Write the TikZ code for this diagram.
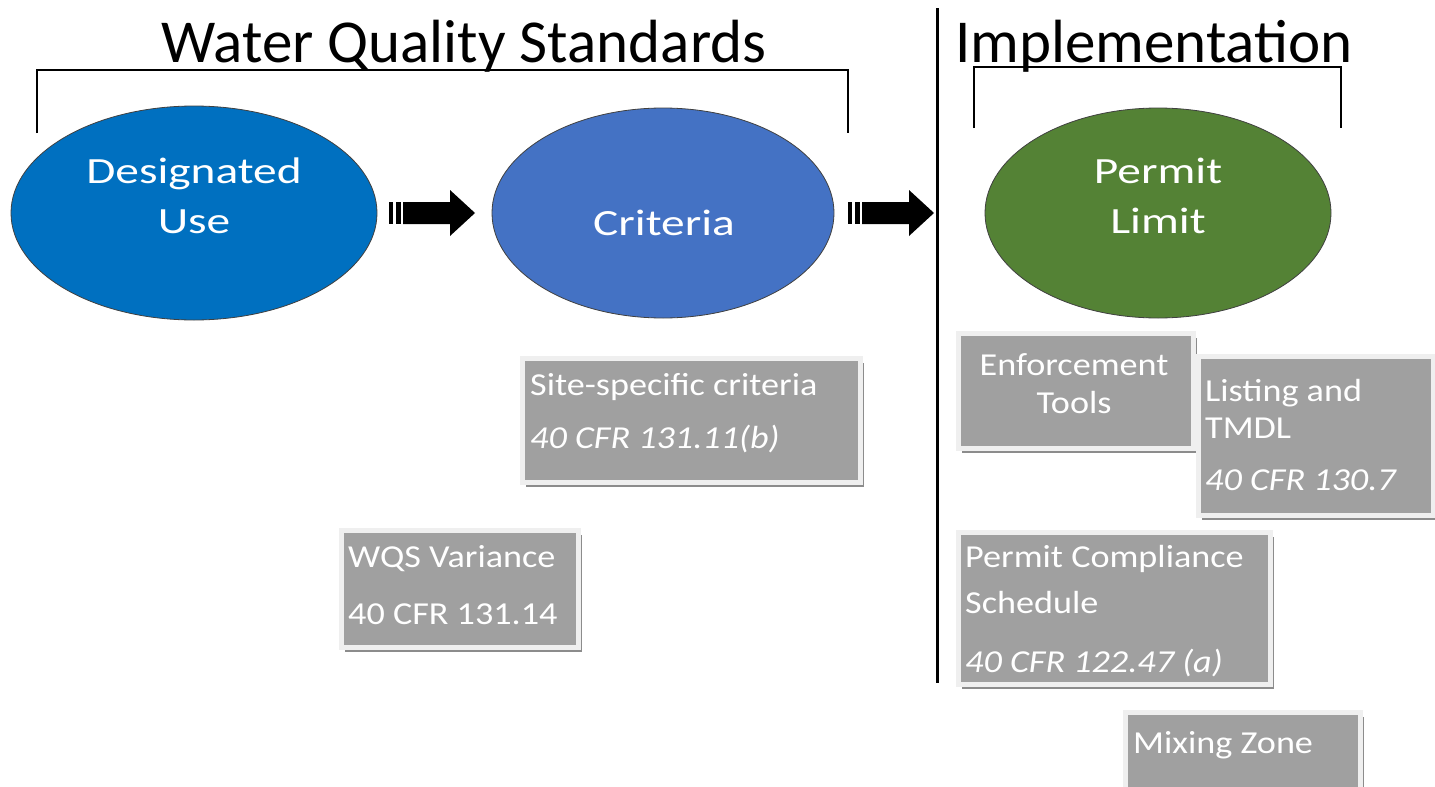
\documentclass[tikz,border=0pt]{standalone}
\usepackage{fontspec}
\setmainfont{Carlito}
\newfontfamily\ellfont[FakeStretch=1.28]{Carlito}
\newfontfamily\boxfont[FakeStretch=1.13]{Carlito}
\usetikzlibrary{shadows,shapes.geometric}
\definecolor{duse}{HTML}{0070C0}
\definecolor{crit}{HTML}{4472C4}
\definecolor{perm}{HTML}{548235}
\definecolor{boxgrey}{HTML}{A0A0A0}
\definecolor{boxedge}{HTML}{EFEFEF}
\definecolor{boxshadow}{HTML}{8C8C8C}
\tikzset{
  title/.style={font=\fontsize{61}{63}\selectfont, text=black, inner sep=0pt},
  brk/.style={line width=2.2pt, draw=black},
  ell/.style={ellipse, draw=black!75, line width=0.8pt},
  elltext/.style={font=\ellfont\fontsize{37}{40}\selectfont, text=white, inner sep=0pt},
  gbox/.style={rectangle, fill=boxgrey, draw=boxedge, line width=5pt, anchor=north west,
    inner sep=0pt, drop shadow={shadow xshift=3.5pt, shadow yshift=-4.5pt, opacity=1, fill=boxshadow}},
  boxtext/.style={font=\boxfont\fontsize{32}{34}\selectfont, text=white, inner sep=0pt},
  boxital/.style={boxtext, font=\boxfont\itshape\fontsize{32}{34}\selectfont},
  striparrow/.pic={
    \fill[black] (0,-11) rectangle (4,11);
    \fill[black] (7,-11) rectangle (12,11);
    \fill[black] (14,-11) -- (61,-11) -- (61,-23) -- (86,0) -- (61,23) -- (61,11) -- (14,11) -- cycle;
  }
}
\begin{document}
\begin{tikzpicture}[x=1pt,y=-1pt]
\useasboundingbox[fill=white] (0,0) rectangle (1435,787);

% titles
\node[title, anchor=base] (wqs) at (464,62) {Water Quality Standards};
\node[title, anchor=base west] (impl) at (955,62) {Implementation};

% brackets
\coordinate (b1) at (37,133);
\coordinate (b2) at (37,70);
\coordinate (b3) at (848,70);
\coordinate (b4) at (848,133);
\draw[brk] (b1) -- (b2) -- (b3) -- (b4);
\coordinate (c1) at (974,128);
\coordinate (c2) at (974,67);
\coordinate (c3) at (1341,67);
\coordinate (c4) at (1341,128);
\draw[brk] (c1) -- (c2) -- (c3) -- (c4);

% divider
\coordinate (d1) at (937,8);
\coordinate (d2) at (937,683);
\draw[line width=3pt] (d1) -- (d2);

% ellipses
\node[ell, fill=duse, minimum width=366pt, minimum height=214pt] (du) at (194,213) {};
\node[ell, fill=crit, minimum width=342pt, minimum height=210pt] (cr) at (663,213) {};
\node[ell, fill=perm, minimum width=346pt, minimum height=210pt] (pl) at (1158,213) {};
\node[elltext, anchor=base] (du1) at (194,183) {Designated};
\node[elltext, anchor=base] (du2) at (194,233) {Use};
\node[elltext, anchor=base] (cr1) at (664,235) {Criteria};
\node[elltext, anchor=base] (pl1) at (1158,183) {Permit};
\node[elltext, anchor=base] (pl2) at (1158,233) {Limit};

% striped arrows
\pic at (389,213) {striparrow};
\pic at (848,213) {striparrow};

% boxes
\node[gbox, minimum width=338pt, minimum height=124pt] (site) at (519.5,355.5) {};
\node[gbox, minimum width=237pt, minimum height=117pt] (var) at (338.5,527.5) {};
\node[gbox, minimum width=235pt, minimum height=115pt] (enf) at (955.5,330.5) {};
\node[gbox, minimum width=234.5pt, minimum height=158.5pt] (tmdl) at (1196,354) {};
\node[gbox, minimum width=312pt, minimum height=152pt] (pcs) at (955.5,529.5) {};
\node[gbox, minimum width=235pt, minimum height=82pt] (mix) at (1122.5,709.5) {};

% box texts
\node[boxtext, anchor=base west] (site1) at (530,395) {Site-specific criteria};
\node[boxital, anchor=base west] (site2) at (530,448) {40 CFR 131.11(b)};
\node[boxtext, anchor=base west] (var1) at (348,567) {WQS Variance};
\node[boxtext, anchor=base west] (var2) at (348,624) {40 CFR 131.14};
\node[boxtext, anchor=base] (enf1) at (1074,375) {Enforcement};
\node[boxtext, anchor=base] (enf2) at (1074,413) {Tools};
\node[boxtext, anchor=base west] (tm1) at (1205,401) {Listing and};
\node[boxtext, anchor=base west] (tm2) at (1205,438) {TMDL};
\node[boxital, anchor=base west] (tm3) at (1205,490) {40 CFR 130.7};
\node[boxtext, anchor=base west] (pc1) at (965,567) {Permit Compliance};
\node[boxtext, anchor=base west] (pc2) at (965,613) {Schedule};
\node[boxital, anchor=base west] (pc3) at (965,672) {40 CFR 122.47 (a)};
\node[boxtext, anchor=base west] (mx1) at (1133,753) {Mixing Zone};
\end{tikzpicture}
\end{document}
